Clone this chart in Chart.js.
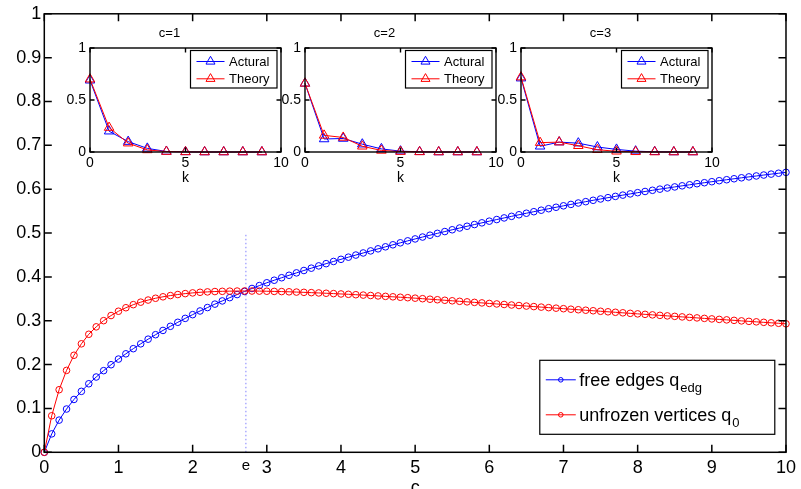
<!DOCTYPE html>
<html>
<head>
<meta charset="utf-8">
<script src="https://cdn.jsdelivr.net/npm/chart.js@4/dist/chart.umd.min.js"></script>
<style>
  html, body { margin: 0; padding: 0; background: #fff; overflow: hidden; }
  #wrap { position: relative; width: 801px; height: 489px; overflow: hidden; }
  canvas { position: absolute; }
</style>
</head>
<body>
<div id="wrap">
  <canvas id="main"></canvas>
  <canvas id="inset1"></canvas>
  <canvas id="inset2"></canvas>
  <canvas id="inset3"></canvas>
</div>
<script>
// main plot: c from 0 to 10 in steps of 0.1
const cValues = [
  0, 0.1, 0.2, 0.3, 0.4, 0.5, 0.6, 0.7, 0.8, 0.9,
  1, 1.1, 1.2, 1.3, 1.4, 1.5, 1.6, 1.7, 1.8, 1.9,
  2, 2.1, 2.2, 2.3, 2.4, 2.5, 2.6, 2.7, 2.8, 2.9,
  3, 3.1, 3.2, 3.3, 3.4, 3.5, 3.6, 3.7, 3.8, 3.9,
  4, 4.1, 4.2, 4.3, 4.4, 4.5, 4.6, 4.7, 4.8, 4.9,
  5, 5.1, 5.2, 5.3, 5.4, 5.5, 5.6, 5.7, 5.8, 5.9,
  6, 6.1, 6.2, 6.3, 6.4, 6.5, 6.6, 6.7, 6.8, 6.9,
  7, 7.1, 7.2, 7.3, 7.4, 7.5, 7.6, 7.7, 7.8, 7.9,
  8, 8.1, 8.2, 8.3, 8.4, 8.5, 8.6, 8.7, 8.8, 8.9,
  9, 9.1, 9.2, 9.3, 9.4, 9.5, 9.6, 9.7, 9.8, 9.9,
  10
];

// free edges q_edg (blue)
const qEdg = [
  0, 0.0420, 0.0734, 0.0987, 0.1205, 0.1390, 0.1563, 0.1717, 0.1862, 0.1997,
  0.2126, 0.2246, 0.2363, 0.2474, 0.2580, 0.2682, 0.2779, 0.2873, 0.2965, 0.3054,
  0.3139, 0.3223, 0.3301, 0.3379, 0.3452, 0.3527, 0.3597, 0.3668, 0.3736, 0.3802,
  0.3866, 0.3924, 0.3981, 0.4037, 0.4092, 0.4146, 0.4199, 0.4251, 0.4302, 0.4352,
  0.4401, 0.4450, 0.4498, 0.4546, 0.4593, 0.4640, 0.4686, 0.4732, 0.4777, 0.4822,
  0.4866, 0.4909, 0.4951, 0.4993, 0.5034, 0.5075, 0.5115, 0.5155, 0.5194, 0.5233,
  0.5271, 0.5308, 0.5345, 0.5381, 0.5417, 0.5452, 0.5487, 0.5521, 0.5555, 0.5588,
  0.5621, 0.5653, 0.5685, 0.5716, 0.5747, 0.5777, 0.5807, 0.5836, 0.5865, 0.5893,
  0.5921, 0.5948, 0.5975, 0.6001, 0.6027, 0.6052, 0.6077, 0.6101, 0.6125, 0.6148,
  0.6171, 0.6194, 0.6216, 0.6238, 0.6260, 0.6281, 0.6302, 0.6323, 0.6344, 0.6364,
  0.6384
];

// unfrozen vertices q_0 (red)
const q0 = [
  0, 0.0833, 0.1427, 0.1868, 0.2213, 0.2474, 0.2692, 0.2861, 0.3002, 0.3119,
  0.3217, 0.3297, 0.3367, 0.3424, 0.3472, 0.3513, 0.3546, 0.3574, 0.3598, 0.3619,
  0.3635, 0.3649, 0.3658, 0.3666, 0.3671, 0.3675, 0.3677, 0.3679, 0.3678, 0.3676,
  0.3673, 0.3669, 0.3665, 0.3660, 0.3654, 0.3648, 0.3641, 0.3634, 0.3627, 0.3619,
  0.3611, 0.3603, 0.3594, 0.3585, 0.3576, 0.3566, 0.3556, 0.3546, 0.3536, 0.3526,
  0.3515, 0.3503, 0.3491, 0.3479, 0.3467, 0.3455, 0.3443, 0.3431, 0.3419, 0.3407,
  0.3395, 0.3383, 0.3371, 0.3359, 0.3347, 0.3335, 0.3323, 0.3311, 0.3299, 0.3287,
  0.3275, 0.3263, 0.3251, 0.3240, 0.3228, 0.3216, 0.3204, 0.3193, 0.3181, 0.3169,
  0.3157, 0.3146, 0.3134, 0.3123, 0.3111, 0.3100, 0.3088, 0.3077, 0.3065, 0.3054,
  0.3042, 0.3031, 0.3020, 0.3009, 0.2997, 0.2986, 0.2975, 0.2964, 0.2953, 0.2942,
  0.2930
];

// dotted marker line at c = e
const eValue = 2.718;
const eLineX = [eValue, eValue];
const eLineY = [0, 0.5];

const mainXTicks = [0, 1, 2, 3, 4, 5, 6, 7, 8, 9, 10];
const mainYTicks = [0, 0.1, 0.2, 0.3, 0.4, 0.5, 0.6, 0.7, 0.8, 0.9, 1];

// insets: degree distribution at k = 0..9
const insetK = [0, 1, 2, 3, 4, 5, 6, 7, 8, 9];
const insetTitles = ['c=1', 'c=2', 'c=3'];
const actual1 = [0.69, 0.20, 0.10, 0.035, 0.005, 0.001, 0, 0, 0, 0];
const theory1 = [0.70, 0.235, 0.085, 0.02, 0.004, 0.001, 0, 0, 0, 0];
const actual2 = [0.66, 0.125, 0.13, 0.075, 0.03, 0.008, 0.002, 0, 0, 0];
const theory2 = [0.66, 0.16, 0.14, 0.055, 0.015, 0.004, 0.001, 0, 0, 0];
const actual3 = [0.71, 0.055, 0.095, 0.085, 0.048, 0.025, 0.008, 0.002, 0, 0];
const theory3 = [0.72, 0.09, 0.095, 0.06, 0.022, 0.007, 0.002, 0, 0, 0];
const insetXTicks = [0, 5, 10];
const insetYTicks = [0, 0.5, 1];

const FONT = 'Liberation Sans, Arial, Helvetica, sans-serif';
const BLUE = '#0000ff';
const RED = '#ff0000';

const toPoints = (xs, ys) => xs.map((x, i) => ({ x: x, y: ys[i] }));

// black box with inward tick marks on all four sides (matlab style)
const frameTicks = {
  id: 'frameTicks',
  afterDraw(chart, args, opts) {
    const { ctx, chartArea: a, scales } = chart;
    ctx.save();
    ctx.strokeStyle = '#000';
    ctx.lineWidth = opts.width;
    ctx.beginPath();
    scales.x.ticks.forEach(t => {
      if (t.value === eValue) return;
      const px = scales.x.getPixelForValue(t.value);
      ctx.moveTo(px, a.bottom); ctx.lineTo(px, a.bottom - opts.len);
      ctx.moveTo(px, a.top); ctx.lineTo(px, a.top + opts.len);
    });
    scales.y.ticks.forEach(t => {
      const py = scales.y.getPixelForValue(t.value);
      ctx.moveTo(a.left, py); ctx.lineTo(a.left + opts.len, py);
      ctx.moveTo(a.right, py); ctx.lineTo(a.right - opts.len, py);
    });
    ctx.stroke();
    ctx.strokeRect(a.left, a.top, a.right - a.left, a.bottom - a.top);
    ctx.restore();
  }
};

// white plot background (insets sit on top of the main plot)
const plotBg = {
  id: 'plotBg',
  beforeDatasetsDraw(chart) {
    const { ctx, chartArea: a } = chart;
    ctx.save();
    ctx.fillStyle = '#fff';
    ctx.fillRect(a.left, a.top, a.right - a.left, a.bottom - a.top);
    ctx.restore();
  }
};

// boxed legend with line + marker samples, optional subscript
const boxLegend = {
  id: 'boxLegend',
  afterDraw(chart, args, opts) {
    const { ctx, chartArea: a } = chart;
    const x0 = a.right - opts.right - opts.width;
    const y0 = opts.bottom != null ? a.bottom - opts.bottom - opts.height : a.top + opts.top;
    ctx.save();
    ctx.fillStyle = '#fff';
    ctx.fillRect(x0, y0, opts.width, opts.height);
    ctx.strokeStyle = '#000';
    ctx.lineWidth = 1.2;
    ctx.strokeRect(x0, y0, opts.width, opts.height);
    opts.items.forEach((it, i) => {
      const ds = chart.data.datasets[it.dataset];
      const cy = y0 + opts.rowTop + i * opts.rowGap;
      ctx.strokeStyle = ds.borderColor;
      ctx.lineWidth = 1;
      ctx.beginPath();
      ctx.moveTo(x0 + opts.lineFrom, cy);
      ctx.lineTo(x0 + opts.lineTo, cy);
      ctx.stroke();
      ctx.fillStyle = 'rgba(0,0,0,0)';
      Chart.helpers.drawPoint(ctx, { pointStyle: ds.pointStyle, radius: opts.markerRadius, rotation: 0, borderWidth: 1 },
        x0 + (opts.lineFrom + opts.lineTo) / 2, cy);
      ctx.fillStyle = '#000';
      ctx.textBaseline = 'alphabetic';
      ctx.textAlign = 'left';
      ctx.font = opts.fontSize + 'px ' + FONT;
      const tx = x0 + opts.textX;
      const base = cy + opts.fontSize * 0.36;
      ctx.fillText(it.text, tx, base);
      if (it.sub) {
        const w = ctx.measureText(it.text).width;
        ctx.font = opts.subSize + 'px ' + FONT;
        ctx.fillText(it.sub, tx + w + 1, base + opts.subDrop);
      }
    });
    ctx.restore();
  }
};

// ---------- main chart ----------
const mainCanvas = document.getElementById('main');
mainCanvas.width = 801;
mainCanvas.height = 499;
mainCanvas.style.left = '0px';
mainCanvas.style.top = '0px';

new Chart(mainCanvas, {
  type: 'line',
  data: {
    datasets: [
      {
        label: 'free edges q_edg',
        data: toPoints(cValues, qEdg),
        borderColor: BLUE,
        backgroundColor: 'rgba(0,0,0,0)',
        borderWidth: 1,
        pointStyle: 'circle',
        pointRadius: 3.3,
        pointBorderWidth: 1,
        pointBorderColor: BLUE,
        pointBackgroundColor: 'rgba(0,0,0,0)',
        tension: 0,
        clip: false,
        order: 1
      },
      {
        label: 'unfrozen vertices q_0',
        data: toPoints(cValues, q0),
        borderColor: RED,
        backgroundColor: 'rgba(0,0,0,0)',
        borderWidth: 1,
        pointStyle: 'circle',
        pointRadius: 3.3,
        pointBorderWidth: 1,
        pointBorderColor: RED,
        pointBackgroundColor: 'rgba(0,0,0,0)',
        tension: 0,
        clip: false,
        order: 0
      },
      {
        label: 'e',
        data: toPoints(eLineX, eLineY),
        borderColor: '#8080ff',
        borderWidth: 1,
        borderDash: [1.5, 2.5],
        pointRadius: 0,
        order: 2
      }
    ]
  },
  options: {
    responsive: false,
    animation: false,
    layout: { padding: { top: 13.3, right: 11.5, left: 0, bottom: 0 } },
    plugins: {
      legend: { display: false },
      tooltip: { enabled: false },
      frameTicks: { len: 7.5, width: 1.5 },
      boxLegend: {
        right: 11.2, bottom: 18, width: 235, height: 74,
        rowTop: 19.5, rowGap: 35, lineFrom: 6, lineTo: 36, textX: 39.5,
        markerRadius: 2.3, fontSize: 18, subSize: 13, subDrop: 6,
        items: [
          { dataset: 0, text: 'free edges q', sub: 'edg' },
          { dataset: 1, text: 'unfrozen vertices q', sub: '0' }
        ]
      }
    },
    scales: {
      x: {
        type: 'linear', min: 0, max: 10,
        afterBuildTicks: s => { s.ticks = mainXTicks.concat([eValue]).sort((p, q) => p - q).map(v => ({ value: v })); },
        afterFit: s => { s.height = 46.7; },
        grid: { display: false, drawTicks: false },
        border: { display: false },
        ticks: {
          autoSkip: false, maxRotation: 0, padding: 5, color: '#000',
          font: c => ({ family: FONT, size: c.tick && c.tick.value === eValue ? 15 : 18 }),
          callback: v => v === eValue ? 'e' : v
        },
        title: { display: true, text: 'c', color: '#000', font: { family: FONT, size: 18 }, padding: 0 }
      },
      y: {
        type: 'linear', min: 0, max: 1,
        afterBuildTicks: s => { s.ticks = mainYTicks.map(v => ({ value: v })); },
        afterFit: s => { s.width = 44.3; },
        grid: { display: false, drawTicks: false },
        border: { display: false },
        ticks: { padding: 3, color: '#000', font: { family: FONT, size: 18 }, callback: v => v }
      }
    }
  },
  plugins: [frameTicks, boxLegend]
});

// ---------- insets ----------
const insetBoxes = [
  { left: 89.5, top: 47.5 },
  { left: 305.2, top: 47.5 },
  { left: 520.9, top: 47.5 }
];
const insetW = 191.5, insetH = 104;
const insetSeries = [[actual1, theory1], [actual2, theory2], [actual3, theory3]];

function makeInset(id, idx) {
  const cv = document.getElementById(id);
  const b = insetBoxes[idx];
  cv.width = insetW + 44;
  cv.height = insetH + 62;
  cv.style.left = (b.left - 32) + 'px';
  cv.style.top = (b.top - 24) + 'px';
  const series = insetSeries[idx];
  const mk = (label, ys, color, order) => ({
    label: label,
    data: toPoints(insetK, ys),
    borderColor: color,
    backgroundColor: 'rgba(0,0,0,0)',
    borderWidth: 1,
    pointStyle: 'triangle',
    pointRadius: 5.5,
    pointBorderWidth: 1,
    pointBorderColor: color,
    pointBackgroundColor: 'rgba(0,0,0,0)',
    tension: 0,
    clip: false,
    order: order
  });
  new Chart(cv, {
    type: 'line',
    data: { datasets: [mk('Actural', series[0], BLUE, 1), mk('Theory', series[1], RED, 0)] },
    options: {
      responsive: false,
      animation: false,
      layout: { padding: { top: 1.8, right: 12, left: 0, bottom: 0 } },
      plugins: {
        legend: { display: false },
        tooltip: { enabled: false },
        title: { display: true, text: insetTitles[idx], color: '#000', font: { family: FONT, size: 13, weight: 'normal' }, padding: { top: 0, bottom: 6.6 } },
        frameTicks: { len: 4.5, width: 1.4 },
        boxLegend: {
          right: 4, top: 2.5, width: 86.5, height: 37.5,
          rowTop: 11, rowGap: 17.3, lineFrom: 6, lineTo: 34, textX: 38.5,
          markerRadius: 5.2, fontSize: 13, subSize: 10, subDrop: 4,
          items: [{ dataset: 0, text: 'Actural' }, { dataset: 1, text: 'Theory' }]
        }
      },
      scales: {
        x: {
          type: 'linear', min: 0, max: 10,
          afterBuildTicks: s => { s.ticks = insetXTicks.map(v => ({ value: v })); },
          afterFit: s => { s.height = 38; },
          grid: { display: false, drawTicks: false },
          border: { display: false },
          ticks: { autoSkip: false, maxRotation: 0, padding: 3.2, color: '#000', font: { family: FONT, size: 14 }, callback: v => v },
          title: { display: true, text: 'k', color: '#000', font: { family: FONT, size: 14 }, padding: { top: 0, bottom: 3.1 } }
        },
        y: {
          type: 'linear', min: 0, max: 1,
          afterBuildTicks: s => { s.ticks = insetYTicks.map(v => ({ value: v })); },
          afterFit: s => { s.width = 32; },
          grid: { display: false, drawTicks: false },
          border: { display: false },
          ticks: { padding: 4, color: '#000', font: { family: FONT, size: 14 }, callback: v => v }
        }
      }
    },
    plugins: [plotBg, frameTicks, boxLegend]
  });
}

makeInset('inset1', 0);
makeInset('inset2', 1);
makeInset('inset3', 2);
</script>
</body>
</html>
